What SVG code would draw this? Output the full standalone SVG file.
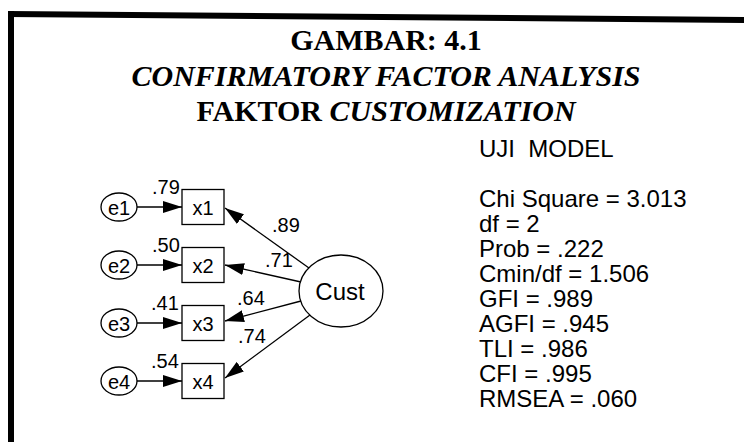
<svg xmlns="http://www.w3.org/2000/svg" width="744" height="442" viewBox="0 0 744 442">
<style>
.title{font-family:"Liberation Serif","Times New Roman",serif;font-weight:bold;font-size:30px;fill:#000;text-anchor:middle}
.it{font-style:italic}
.lbl{font-family:"Liberation Sans",Arial,sans-serif;font-size:20px;fill:#000}
.mid{text-anchor:middle}
.stat{font-family:"Liberation Sans",Arial,sans-serif;font-size:24px;fill:#000}
.node{fill:#fff;stroke:#000;stroke-width:1.3}
.edge{stroke:#000;stroke-width:1.3;fill:none;marker-end:url(#ah)}
</style>
<defs>
<marker id="ah" markerWidth="19" markerHeight="12" refX="19" refY="6" orient="auto" markerUnits="userSpaceOnUse">
<path d="M0,0 L19,6 L0,12 Z" fill="#000"/>
</marker>
</defs>
<rect width="744" height="442" fill="#fff"/>
<polygon points="8,11 744,17 744,23 8,17" fill="#000"/>
<rect x="8" y="11" width="6" height="431" fill="#000"/>
<text class="title" x="386" y="50">GAMBAR: 4.1</text>
<text class="title it" x="386" y="86">CONFIRMATORY FACTOR ANALYSIS</text>
<text class="title" x="386" y="121">FAKTOR <tspan class="it">CUSTOMIZATION</tspan></text>
<g id="stats" class="stat">
<text x="479" y="157" xml:space="preserve">UJI  MODEL</text>
<text x="479" y="207">Chi Square = 3.013</text>
<text x="479" y="232">df = 2</text>
<text x="479" y="257">Prob = .222</text>
<text x="479" y="282">Cmin/df = 1.506</text>
<text x="479" y="307">GFI = .989</text>
<text x="479" y="332">AGFI = .945</text>
<text x="479" y="357">TLI = .986</text>
<text x="479" y="382">CFI = .995</text>
<text x="479" y="407">RMSEA = .060</text>
</g>
<g id="connectors">
<line class="edge" x1="137" y1="207" x2="182" y2="207"/>
<line class="edge" x1="137" y1="265" x2="182" y2="265"/>
<line class="edge" x1="137" y1="323" x2="182" y2="323"/>
<line class="edge" x1="137" y1="381" x2="182" y2="381"/>
<line class="edge" x1="309" y1="268" x2="225" y2="208"/>
<line class="edge" x1="301" y1="282" x2="225" y2="265"/>
<line class="edge" x1="301" y1="301" x2="225" y2="321"/>
<line class="edge" x1="310" y1="315" x2="225" y2="378"/>
<text class="lbl" x="152" y="194">.79</text>
<text class="lbl" x="152" y="252">.50</text>
<text class="lbl" x="151" y="310">.41</text>
<text class="lbl" x="151" y="368">.54</text>
<text class="lbl" x="272" y="232">.89</text>
<text class="lbl" x="265" y="267">.71</text>
<text class="lbl" x="237" y="305">.64</text>
<text class="lbl" x="238" y="343">.74</text>
</g>
<g id="e1"><ellipse class="node" cx="119" cy="207" rx="18" ry="14"/><text class="lbl mid" x="119" y="214.5">e1</text></g>
<g id="e2"><ellipse class="node" cx="119" cy="265" rx="18" ry="14"/><text class="lbl mid" x="119" y="272.5">e2</text></g>
<g id="e3"><ellipse class="node" cx="119" cy="323" rx="18" ry="14"/><text class="lbl mid" x="119" y="330.5">e3</text></g>
<g id="e4"><ellipse class="node" cx="119" cy="381" rx="18" ry="14"/><text class="lbl mid" x="119" y="388.5">e4</text></g>
<g id="x1"><rect class="node" x="182" y="189.5" width="42" height="35"/><text class="lbl mid" x="203" y="214.5">x1</text></g>
<g id="x2"><rect class="node" x="182" y="247.5" width="42" height="35"/><text class="lbl mid" x="203" y="272.5">x2</text></g>
<g id="x3"><rect class="node" x="182" y="305.5" width="42" height="35"/><text class="lbl mid" x="203" y="330.5">x3</text></g>
<g id="x4"><rect class="node" x="182" y="363.5" width="42" height="35"/><text class="lbl mid" x="203" y="388.5">x4</text></g>
<g id="Cust"><ellipse class="node" cx="341" cy="291" rx="42" ry="36"/><text class="lbl mid" x="340" y="300" style="font-size:24px">Cust</text></g>
</svg>
